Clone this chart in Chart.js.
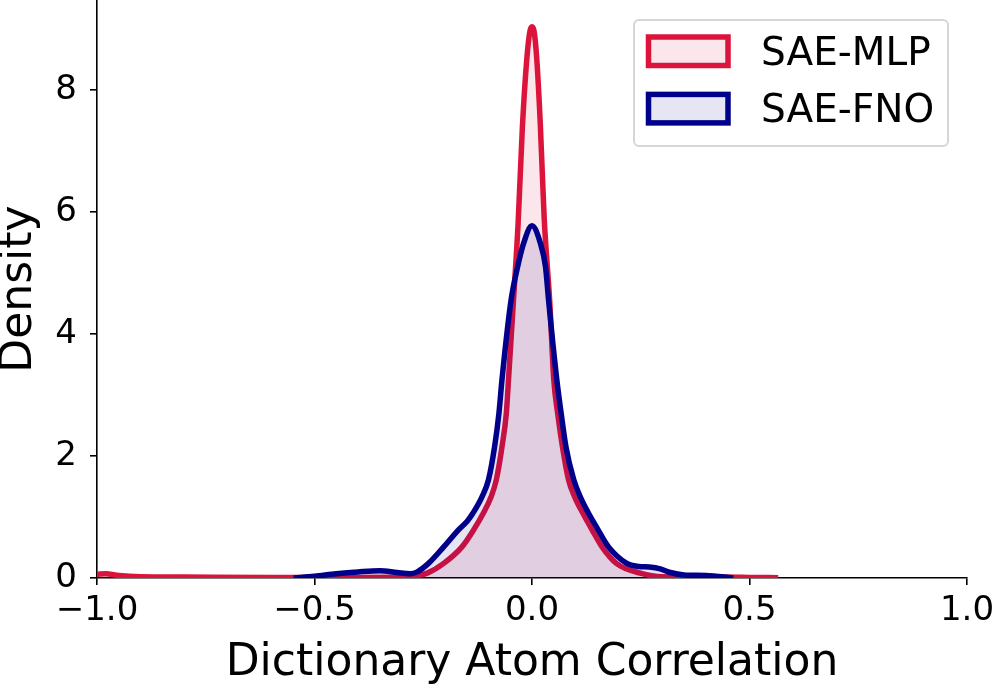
<!DOCTYPE html>
<html>
<head>
<meta charset="utf-8">
<script src="https://cdn.jsdelivr.net/npm/chart.js@4"></script>
<style>
html,body{margin:0;padding:0;background:#fff;}
canvas{display:block;}
</style>
</head>
<body>
<canvas id="kdeChart" width="997" height="686"></canvas>
<script>
// KDE curves (x = correlation, y = density)
const seriesLabels = ["SAE-MLP", "SAE-FNO"];

const mlpX = [-1.00,-0.98,-0.95,-0.90,-0.80,-0.60,-0.40,-0.30,-0.27,-0.241,
              -0.203,-0.161,-0.134,-0.112,-0.094,-0.082,-0.069,-0.059,-0.054,-0.043,
              -0.032,-0.022,-0.012,-0.005,0.000,0.005,0.011,0.019,0.028,0.041,
              0.050,0.059,0.070,0.084,0.098,0.117,0.138,0.161,0.194,0.249,
              0.30,0.40,0.50,0.566];
const mlpY = [0.06,0.07,0.04,0.02,0.015,0.01,0.01,0.015,0.03,0.08,
              0.24,0.51,0.79,1.06,1.33,1.61,2.15,2.70,3.25,4.50,
              5.80,7.40,8.50,8.95,9.03,8.95,8.50,7.45,5.90,4.50,
              3.25,2.70,2.15,1.61,1.33,1.06,0.79,0.51,0.24,0.08,
              0.02,0.015,0.01,0.005];

const fnoX = [-0.548,-0.50,-0.45,-0.40,-0.35,-0.31,-0.28,-0.264,-0.238,-0.203,
              -0.169,-0.149,-0.136,-0.115,-0.100,-0.086,-0.076,-0.069,-0.048,-0.033,
              -0.019,0.000,0.019,0.031,0.038,0.057,0.067,0.078,0.096,0.111,
              0.130,0.152,0.176,0.218,0.245,0.270,0.295,0.318,0.350,0.400,0.463];
const fnoY = [0.00,0.03,0.07,0.10,0.12,0.09,0.07,0.10,0.24,0.51,
              0.79,0.93,1.06,1.33,1.61,2.15,2.70,3.25,4.56,5.10,
              5.49,5.77,5.49,5.10,4.56,3.25,2.70,2.15,1.61,1.33,
              1.06,0.79,0.51,0.24,0.19,0.18,0.15,0.09,0.05,0.04,0.00];

const xTicks = [-1.0, -0.5, 0.0, 0.5, 1.0];
const yTicks = [0, 2, 4, 6, 8];

const toPoints = (xs, ys) => xs.map((x, i) => ({x: x, y: ys[i]}));

const FONT = "'DejaVu Sans'";

// matplotlib-style legend with frame
const legendBox = {
  id: 'legendBox',
  afterDraw(chart) {
    const ctx = chart.ctx;
    const ds = chart.data.datasets;
    ctx.save();
    ctx.beginPath();
    ctx.roundRect(634, 20, 314, 126, 5);
    ctx.fillStyle = 'rgba(255,255,255,0.8)';
    ctx.fill();
    ctx.lineWidth = 2;
    ctx.strokeStyle = '#d6d6d6';
    ctx.stroke();
    ds.forEach((d, i) => {
      const y = 37 + i * 57.4;
      ctx.fillStyle = d.backgroundColor;
      ctx.fillRect(648.5, y, 79.5, 28.5);
      ctx.lineWidth = 5.5;
      ctx.strokeStyle = d.borderColor;
      ctx.strokeRect(648.5, y, 79.5, 28.5);
      ctx.fillStyle = '#000';
      ctx.font = "39px " + FONT;
      ctx.textBaseline = 'alphabetic';
      ctx.textAlign = 'left';
      ctx.fillText(d.label, 761, 65 + i * 57.4);
    });
    ctx.restore();
  }
};

const fmtX = v => (v < 0 ? '\u2212' : '') + Math.abs(v).toFixed(1);

new Chart(document.getElementById('kdeChart'), {
  type: 'line',
  data: {
    datasets: [
      {label: seriesLabels[0], data: toPoints(mlpX, mlpY), order: 1,
       borderColor: '#DC143C', backgroundColor: 'rgba(220,20,60,0.1)',
       borderWidth: 5.5, fill: 'origin', pointRadius: 0, cubicInterpolationMode: 'monotone'},
      {label: seriesLabels[1], data: toPoints(fnoX, fnoY), order: 0,
       borderColor: '#00008B', backgroundColor: 'rgba(0,0,139,0.1)',
       borderWidth: 5.5, fill: 'origin', pointRadius: 0, cubicInterpolationMode: 'monotone'}
    ]
  },
  options: {
    responsive: false,
    animation: false,
    layout: {padding: {top: 0, right: 30, left: 0, bottom: 0}},
    plugins: {legend: {display: false}, tooltip: {enabled: false}},
    scales: {
      x: {
        type: 'linear', min: -1, max: 1,
        afterBuildTicks: s => { s.ticks = xTicks.map(v => ({value: v})); },
        afterFit: s => { s.height = 108; s.paddingLeft = 0; s.paddingRight = 0; },
        grid: {drawOnChartArea: false, color: '#000', lineWidth: 1.6, tickLength: 7},
        border: {display: true, color: '#000', width: 1.6},
        ticks: {color: '#000', font: {family: FONT, size: 34, lineHeight: 1.2}, padding: 6,
                maxRotation: 0, callback: v => fmtX(v)},
        title: {display: true, text: 'Dictionary Atom Correlation', color: '#000',
                font: {family: FONT, size: 44, lineHeight: 1}, padding: {top: 1, bottom: 0}}
      },
      y: {
        type: 'linear', min: 0, max: 9.47,
        afterBuildTicks: s => { s.ticks = yTicks.map(v => ({value: v})); },
        afterFit: s => { s.width = 97; s.paddingTop = 0; s.paddingBottom = 0; },
        grid: {drawOnChartArea: false, color: '#000', lineWidth: 1.6, tickLength: 7},
        border: {display: true, color: '#000', width: 1.6},
        ticks: {color: '#000', font: {family: FONT, size: 34}, padding: 13,
                callback: v => String(v)},
        title: {display: true, text: 'Density', color: '#000',
                font: {family: FONT, size: 44, lineHeight: 1}, padding: {top: -2, bottom: 0}}
      }
    }
  },
  plugins: [legendBox]
});
</script>
</body>
</html>
